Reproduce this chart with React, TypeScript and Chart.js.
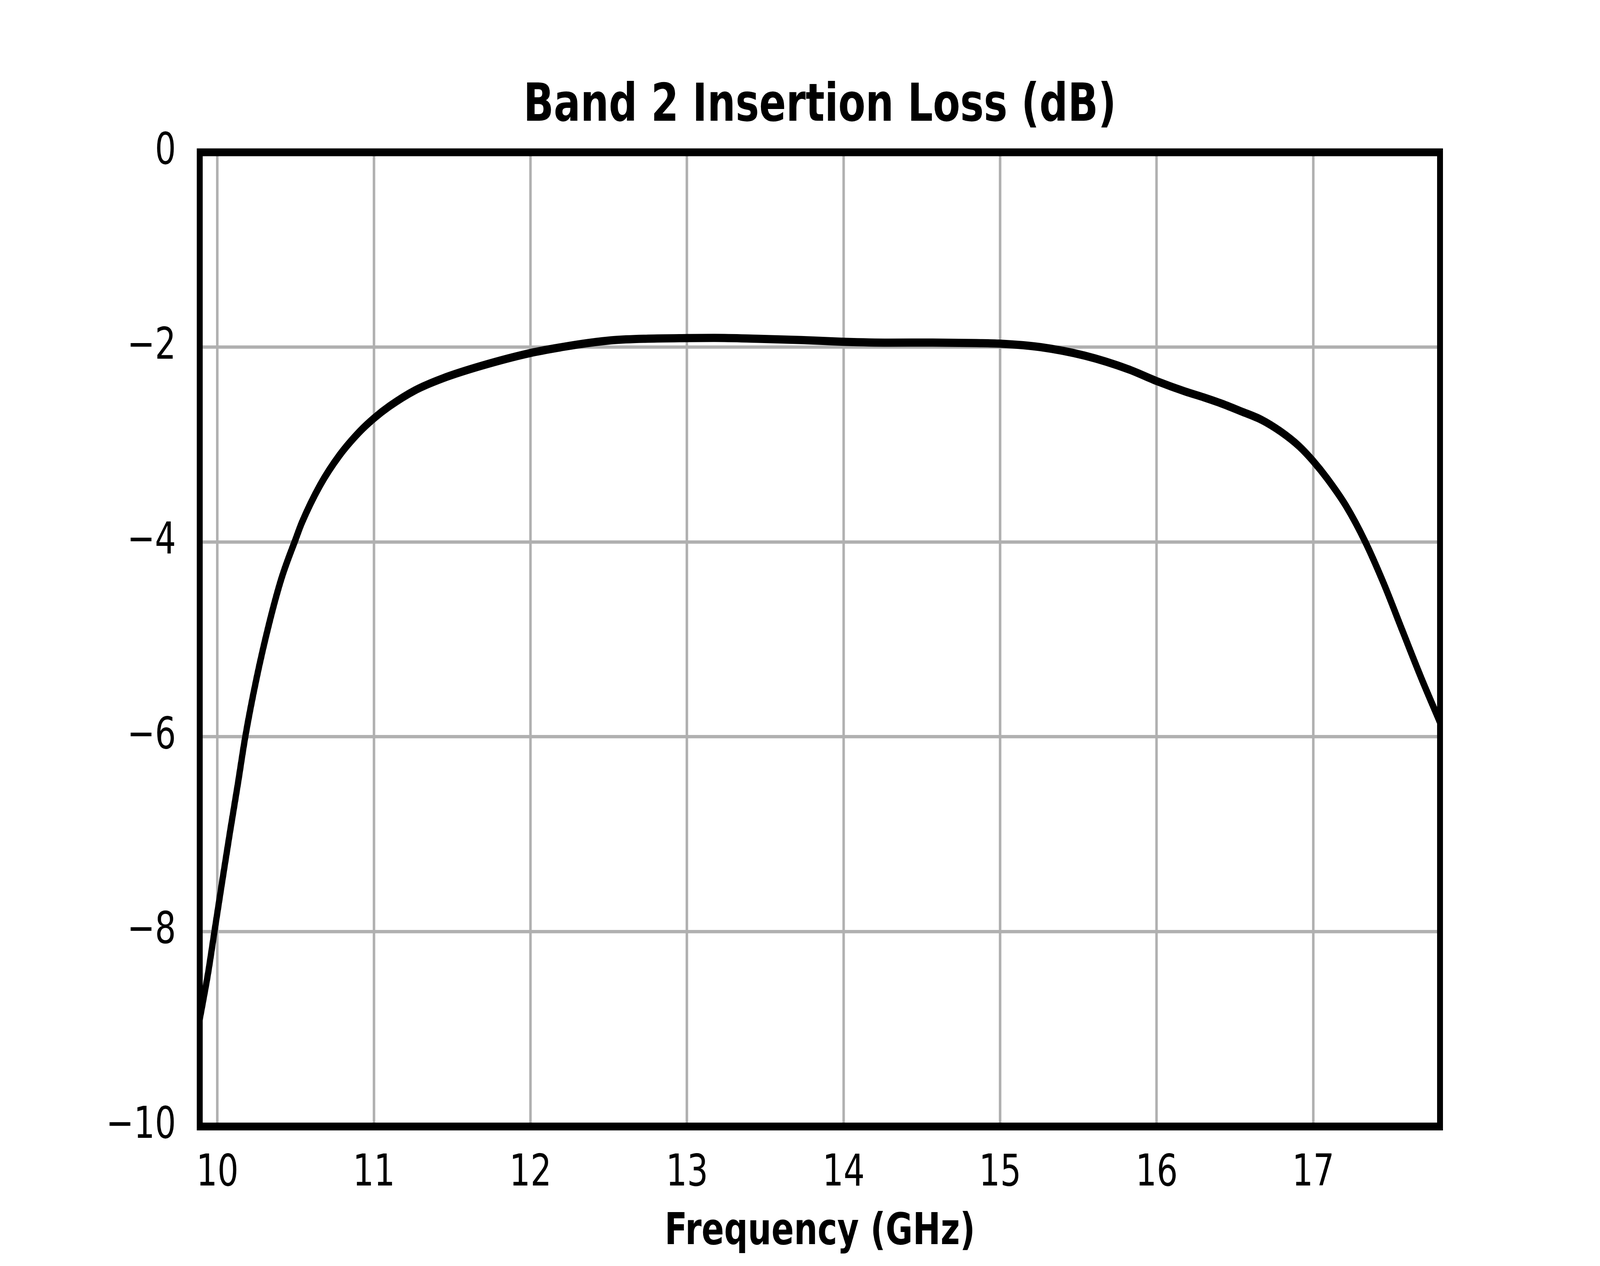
import { useEffect, useRef } from "react";
import { Chart, registerables } from "chart.js";

Chart.register(...registerables);

// frequency (GHz) and insertion loss (dB)
const freqGHz = [
  9.887, 9.94, 9.981, 10.03, 10.08, 10.13, 10.178, 10.25, 10.33, 10.41, 10.5,
  10.54, 10.655, 10.78, 10.907, 11.0, 11.1, 11.26, 11.44, 11.69, 12.0, 12.21,
  12.37, 12.53, 12.75, 13.0, 13.18, 13.45, 13.73, 14.0, 14.29, 14.57, 14.85,
  15.0, 15.26, 15.54, 15.82, 16.0, 16.18, 16.3, 16.42, 16.54, 16.67, 16.79,
  16.91, 17.0, 17.09, 17.21, 17.33, 17.45, 17.57, 17.69, 17.81,
];
const lossDb = [
  -8.9, -8.43, -8.0, -7.49, -6.98, -6.49, -6.0, -5.4, -4.84, -4.37, -3.97,
  -3.8, -3.42, -3.11, -2.87, -2.73, -2.605, -2.445, -2.32, -2.19, -2.06, -1.997,
  -1.957, -1.928, -1.913, -1.907, -1.905, -1.914, -1.927, -1.945, -1.954, -1.953, -1.958,
  -1.964, -2.0, -2.087, -2.227, -2.348, -2.454, -2.515, -2.582, -2.659, -2.746, -2.864,
  -3.017, -3.17, -3.35, -3.631, -3.99, -4.424, -4.911, -5.395, -5.85,
];
const xTicks = [10, 11, 12, 13, 14, 15, 16, 17];
const yTicks = [0, -2, -4, -6, -8, -10];
const xMin = 9.887;
const xMax = 17.81;

const FONT = "'DejaVu Sans', sans-serif";

// axes frame drawn on top of the line, like matplotlib spines
const framePlugin = {
  id: "frame",
  afterDatasetsDraw(chart: any) {
    const { ctx, chartArea } = chart;
    ctx.save();
    ctx.strokeStyle = "#000000";
    ctx.lineWidth = 20;
    ctx.lineJoin = "miter";
    ctx.strokeRect(
      chartArea.left,
      chartArea.top,
      chartArea.right - chartArea.left,
      chartArea.bottom - chartArea.top
    );
    ctx.restore();
  },
};

const InsertionLossChart = () => {
  const chartRef = useRef<HTMLCanvasElement | null>(null);
  const chartInstanceRef = useRef<Chart | null>(null);

  // the chart is laid out at 5400x3240 and shown fitted to the window
  const W = window.innerWidth;
  const H = window.innerHeight;

  useEffect(() => {
    if (!chartRef.current) return;
    const ctx = chartRef.current.getContext("2d");
    if (!ctx) return;
    if (chartInstanceRef.current) chartInstanceRef.current.destroy();

    Chart.defaults.font.family = FONT;
    Chart.defaults.color = "#000000";

    chartInstanceRef.current = new Chart(ctx, {
      type: "line",
      data: {
        datasets: [
          {
            label: "Insertion Loss",
            data: freqGHz.map((f, i) => ({ x: f, y: lossDb[i] })),
            borderColor: "#000000",
            borderWidth: 21,
            borderJoinStyle: "round",
            pointRadius: 0,
            cubicInterpolationMode: "monotone",
            fill: false,
            clip: 0,
          },
        ],
      },
      options: {
        animation: false,
        responsive: false,
        devicePixelRatio: 1,
        layout: { padding: { top: 0, right: 540, bottom: 0, left: 0 } },
        plugins: {
          legend: { display: false },
          tooltip: { enabled: false },
          title: {
            display: true,
            fullSize: false,
            text: "Band 2 Insertion Loss (dB)",
            color: "#000000",
            font: { size: 134, weight: "bold", family: FONT },
            padding: { top: 194, bottom: 35 },
          },
        },
        scales: {
          x: {
            type: "linear",
            min: xMin,
            max: xMax,
            afterBuildTicks: (scale: any) => {
              scale.ticks = xTicks.map((v) => ({ value: v }));
            },
            afterFit: (scale: any) => {
              scale.height = 357;
            },
            ticks: {
              autoSkip: false,
              maxRotation: 0,
              padding: 55,
              color: "#000000",
              font: { size: 112, family: FONT },
              callback: (v: any) => String(v),
            },
            grid: { color: "#b0b0b0", lineWidth: 8.5, drawTicks: false },
            border: { display: false },
            title: {
              display: true,
              text: "Frequency (GHz)",
              color: "#000000",
              font: { size: 112, weight: "bold", family: FONT },
              padding: { top: 0, bottom: 18 },
            },
          },
          y: {
            type: "linear",
            min: -10,
            max: 0,
            afterBuildTicks: (scale: any) => {
              scale.ticks = yTicks.map((v) => ({ value: v }));
            },
            afterFit: (scale: any) => {
              scale.width = 674;
            },
            ticks: {
              padding: 80,
              color: "#000000",
              font: { size: 112, family: FONT },
              callback: (v: any) => String(v).replace("-", "\u2212"),
            },
            grid: { color: "#b0b0b0", lineWidth: 8.5, drawTicks: false },
            border: { display: false },
          },
        },
      },
      plugins: [framePlugin],
    } as any);

    return () => {
      if (chartInstanceRef.current) {
        chartInstanceRef.current.destroy();
        chartInstanceRef.current = null;
      }
    };
  }, []);

  return (
    <div
      style={{
        position: "fixed",
        left: 0,
        top: 0,
        width: W,
        height: H,
        overflow: "hidden",
        background: "#ffffff",
      }}
    >
      <canvas
        ref={chartRef}
        width={5400}
        height={3240}
        style={{ display: "block", width: W, height: H }}
      />
    </div>
  );
};

export default function App() {
  return <InsertionLossChart />;
}
